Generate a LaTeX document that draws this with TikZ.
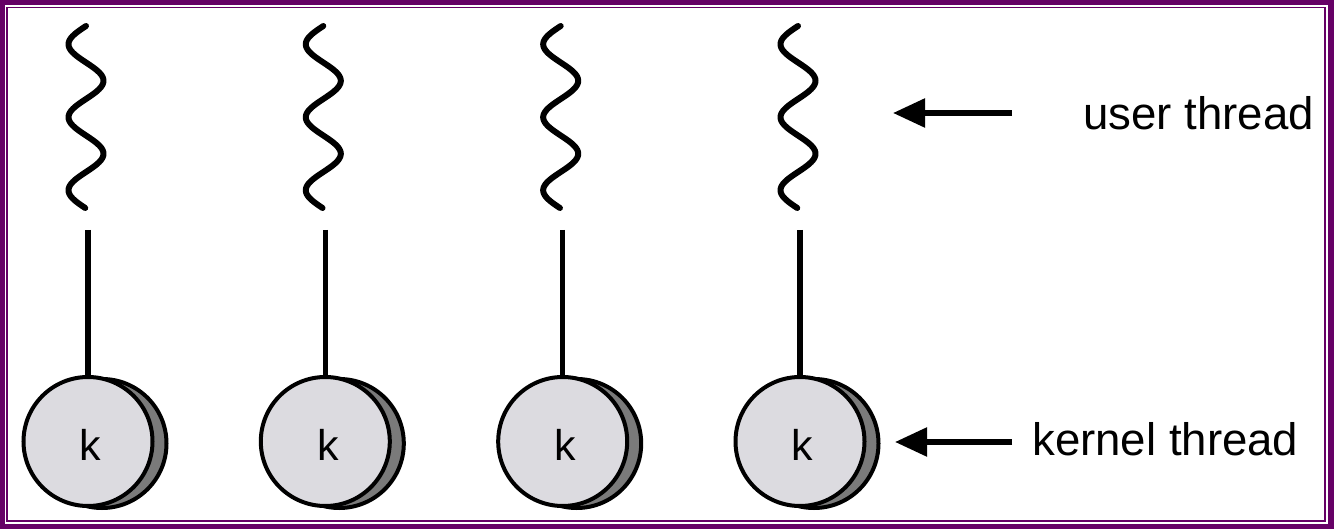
\documentclass[tikz,border=0pt]{standalone}
\usepackage{fontspec}
\setmainfont{Liberation Sans}
\usetikzlibrary{arrows.meta}
\definecolor{frame}{HTML}{660066}
\definecolor{kfill}{HTML}{DCDBE0}
\definecolor{kshade}{HTML}{7A7A7A}
\tikzset{
  wave/.style={line width=6pt, line cap=round, line join=round},
  stem/.style={line width=5.5pt},
  kcircle/.style={circle, draw=black, line width=4pt, fill=kfill, minimum size=129pt, inner sep=0pt},
  kshadow/.style={circle, draw=black, line width=4pt, fill=kshade, minimum size=129pt, inner sep=0pt},
  klabel/.style={inner sep=0pt, anchor=base, font=\fontsize{43}{50}\selectfont},
  lbl/.style={inner sep=0pt, anchor=base west, font=\fontsize{45.6}{54}\selectfont},
  pointer/.style={line width=5.5pt, -{Triangle[length=32pt 0 0, width=28pt 0 0]}}
}
\begin{document}
\begin{tikzpicture}[x=1pt, y=-1pt]
\useasboundingbox (0,0) rectangle (1334,529);
\fill[frame] (0,0) rectangle (1334,529);
\fill[white] (4.5,5) rectangle (1328,524);
\draw[frame, line width=1.8pt] (6.8,7.5) rectangle (1325.3,521.2);
\foreach \c/\i in {88/1, 325.3/2, 562.7/3, 800/4} {
  \draw[wave] plot[variable=\t, domain=0:182, samples=160] ({\c-2-17.5*sin(\t/73*360)},{26+\t});
  \node[kshadow] (s\i) at (\c+14,443.5) {};
  \node[kcircle] (k\i) at (\c,441.5) {};
  \node[klabel] (kt\i) at (\c+2.5,460) {k};
  \coordinate (top\i) at (\c,230);
  \draw[stem] (top\i) -- (k\i.north);
}
\node[lbl] (ut) at (1083,130) {user thread};
\node[lbl] (kt) at (1032,455) {kernel thread};
\coordinate (ua) at (1012,113);
\coordinate (ub) at (893,113);
\coordinate (ka) at (1012,442);
\coordinate (kb) at (895,442);
\draw[pointer] (ua) -- (ub);
\draw[pointer] (ka) -- (kb);
\end{tikzpicture}
\end{document}
